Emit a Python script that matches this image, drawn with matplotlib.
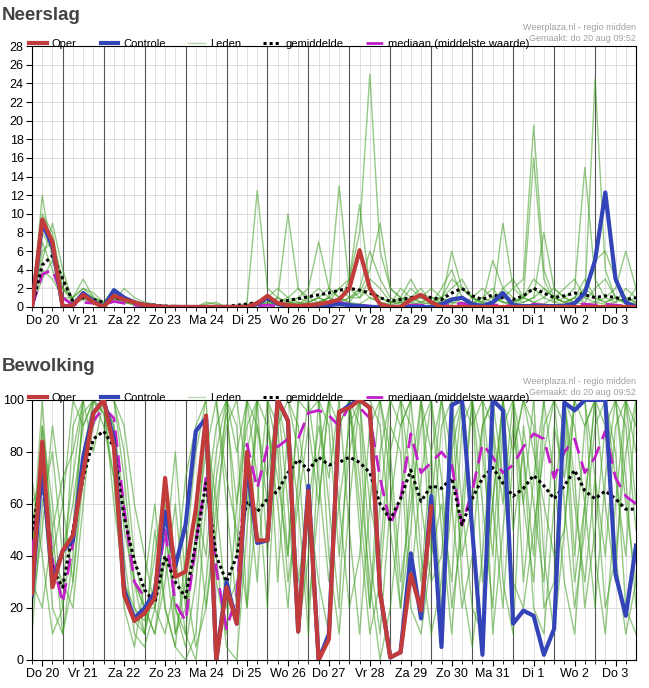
import numpy as np
import matplotlib
matplotlib.use("Agg")
import matplotlib.pyplot as plt
from matplotlib.lines import Line2D

plt.rcParams["font.family"] = ["Liberation Sans", "DejaVu Sans"]

# time axis: days since Do 20 00:00, 6-hourly steps
steps = np.arange(60)
days = ["Do 20", "Vr 21", "Za 22", "Zo 23", "Ma 24", "Di 25", "Wo 26", "Do 27",
        "Vr 28", "Za 29", "Zo 30", "Ma 31", "Di 1", "Wo 2", "Do 3"]

# ---- Neerslag (mm) ----
rain_oper = [0, 9.4, 7, 0, 0.2, 1.3, 0.5, 0, 1.2, 0.8, 0.5, 0.2, 0.1, 0, 0, 0,
             0, 0, 0, 0, 0, 0, 0.4, 1.2, 0.4, 0.2, 0.1, 0.2, 0.3, 0.5, 0.8, 2,
             6.1, 2, 0.3, 0, 0, 0.8, 1.3, 0.5, 0, 0, 0, 0, 0, 0, 0, 0,
             0, 0, 0, 0, 0, 0, 0, 0, 0, 0, 0, 0]
rain_ctrl = [0, 9.0, 6.5, 0, 0.2, 1.5, 0.6, 0, 1.8, 1.0, 0.5, 0.2, 0.1, 0, 0, 0,
             0, 0, 0, 0, 0, 0, 0.3, 1.0, 0.3, 0.1, 0, 0.1, 0.2, 0.2, 0.3, 0.2,
             0.1, 0, 0, 0, 0, 0, 0, 0, 0.3, 0.8, 1.0, 0.3, 0.1, 0.5, 1.5, 0.2,
             0.1, 0.1, 0.1, 0.1, 0.1, 0.4, 1.5, 5, 12.3, 3, 0.5, 0]
rain_mean = [0, 4.5, 5.5, 3, 0.6, 1, 0.8, 0.5, 1, 0.8, 0.5, 0.3, 0.2, 0.1, 0.05, 0.05,
             0.05, 0.05, 0.05, 0.05, 0.2, 0.3, 0.5, 0.8, 0.6, 0.7, 0.9, 1.1, 1.3, 1.5, 1.8, 2.0,
             1.8, 1.5, 1.0, 0.6, 0.8, 1.0, 1.2, 1.0, 0.8, 1.5, 2.0, 1.2, 0.8, 1.3, 1.0, 0.8,
             1.2, 2.0, 1.5, 1.0, 1.2, 1.5, 1.3, 1.0, 1.2, 1.0, 0.8, 1.0]
rain_median = [0, 3.5, 4, 1, 0.2, 0.5, 0.4, 0.2, 0.6, 0.4, 0.2, 0.1, 0, 0, 0, 0,
               0, 0, 0, 0, 0, 0, 0.1, 0.2, 0.1, 0, 0, 0.1, 0.2, 0.3, 0.5, 0.3,
               0.2, 0.1, 0, 0, 0.1, 0.2, 0.2, 0.1, 0, 0.3, 0.4, 0.1, 0, 0.2, 0.2, 0.1,
               0.1, 0.3, 0.2, 0.1, 0.2, 0.4, 0.3, 0.2, 0.3, 0.2, 0.1, 0.2]
rain_members = [
    "0 8 6 1 .5 1 .5 .2 1 .5 .2 0 0 0 0 0 0 0 0 0 0 .2 .5 1 2 1 .5 .3 .5 1 2 3 8 25 6 2 1 .5 1 2 1 .5 .3 1 2 1 .5 .5 1 3 2 1 .5 1 2 1 .5 1 .5 .3",
    "0 12 5 2 1 2 1 .5 2 1 .3 0 .2 0 0 0 0 .3 .5 0 0 .5 12.5 2 1 .5 .3 1 2 1 .5 1 2 1 .5 .2 .5 2 1 .5 1 3 2 1 .5 .3 1 2 3 19.5 4 1 .5 .3 1 .5 .3 .5 1 .5",
    "0 6 7 3 .5 1.5 1 .3 1.5 1 .5 .2 0 0 .2 0 0 0 0 0 0 .2 .3 .5 1 10 2 .5 1 .5 2 1 1 3 2 .5 .3 1 .5 .3 2 4 1 .5 1 2 .5 .3 1 16 3 .5 1 2 15 3 1 .5 2 1",
    "0 4 3 1 .3 .8 .5 .2 .8 .5 .3 0 0 0 0 0 0 0 0 .2 0 .3 .5 1 .5 1 2 1 .5 1 13 2 1 2 1 .5 1 .5 .3 .5 1 2 3 1 .5 5 2 1 .5 1 2 1 2 3 1 24.5 4 1 .5 1",
    "0 10 8 2 1 2 1.5 .5 1 .8 .5 0 0 .2 0 0 0 0 0 0 .2 0 .5 .3 .5 .3 1 .5 1 2 1 .5 2 6 3 1 .5 1 2 .5 .5 1 .5 .3 1 .5 2 3 1 .5 1 2 1 .5 2 5 6 3 1 .5",
    "0 3 5 2 .5 1 .8 .3 1 .7 .4 .1 0 0 0 0 0 .5 .3 0 0 0 .3 .2 1 .5 .3 .5 1 .5 .5 1 1.5 4 9 2 1 3 1 .5 .5 6 2 1 .5 1 .5 .3 .5 1 8 2 1 .5 .3 .5 1 2 6 2",
    "0 7 4 1 1 3 1 .5 .5 2 1 .5 .3 0 0 0 0 0 0 0 0 .3 .2 .5 .3 .5 1 2 7 2 1 .5 .3 1 .5 .3 2 1 .5 1 .5 .3 1 .5 .3 .5 9 2 1 .5 .3 1 .5 1 3 1 .5 1 .3 .5",
    "0 5 9 4 .5 1 .5 .2 1 .5 .3 .2 0 0 0 0 0 0 0 0 0 0 .2 .2 .5 .3 .5 .3 .5 1 .5 3 11 2 1 .5 .5 .3 .5 1 1 .5 2 1 .3 .5 1 .5 1 2 1 .5 .3 1 .5 2 3 1 .5 2",
]

# ---- Bewolking (%) ----
cloud_oper = [25.6, 84, 28, 42, 48, 72, 95, 100, 82, 25, 15, 18, 24, 70, 32, 34,
              58, 94, 0, 28, 14, 80, 46, 46, 100, 92, 11, 65, 0, 8, 95.5, 97,
              100, 97, 26, 1, 3, 33, 19, 59] + [np.nan] * 20
cloud_ctrl = [25, 75, 30, 42, 46, 78, 95, 100, 85, 27, 16, 20, 26, 57, 36, 52,
              88, 93, 0, 30, 14, 75, 45, 46, 100, 92, 11, 67, 0, 10, 95, 98,
              100, 97, 26, 1, 3, 41, 16, 63, 5, 98, 100, 50, 2, 100, 96, 14,
              19, 17, 2, 12, 99, 96, 100, 100, 100, 33, 17, 44]
cloud_mean = [50, 70, 35, 28, 50, 70, 85, 88, 82, 55, 38, 27, 22, 40, 30, 24,
              45, 68, 40, 30, 40, 61, 57, 62, 65, 72, 77, 73, 78, 75, 76, 78,
              76, 72, 60, 54, 62, 73, 61, 67, 66, 70, 52, 62, 70, 74, 68, 63,
              66, 71, 67, 62, 67, 73, 65, 62, 65, 62, 58, 58]
cloud_median = [40, 78, 38, 22, 45, 75, 92, 97, 93, 58, 30, 24, 24, 50, 22, 15,
                45, 70, 35, 12, 25, 83, 66, 82, 82, 85, 85, 95, 96, 94, 90, 98,
                97, 93, 70, 52, 62, 87, 72, 76, 80, 75, 52, 65, 83, 78, 72, 75,
                82, 87, 85, 70, 80, 85, 72, 78, 88, 70, 63, 60]
cloud_members = [
    "30 90 60 20 50 95 100 100 90 60 20 10 30 60 40 10 50 80 100 60 20 80 100 100 90 40 100 95 100 100 60 20 40 90 100 80 30 60 90 100 70 20 50 100 80 40 100 100 60 30 90 100 100 70 20 50 90 100 60 30",
    "60 70 20 10 40 100 100 90 70 20 5 30 60 20 5 0 10 60 90 100 40 100 90 60 100 100 80 20 60 100 100 100 50 10 30 80 100 90 40 10 30 80 100 90 100 60 20 80 100 100 40 10 50 100 100 70 20 40 80 100",
    "20 50 90 60 30 70 90 100 100 80 40 20 10 40 80 30 5 20 60 90 100 70 30 90 60 20 70 100 100 40 10 60 100 100 90 50 20 70 100 60 100 100 30 5 40 90 60 100 80 20 10 60 100 40 90 100 100 80 20 10",
    "40 100 40 30 20 60 100 100 100 90 60 40 20 10 30 70 90 100 40 5 0 50 100 100 30 90 60 10 80 100 90 100 70 30 0 20 60 100 100 40 60 30 90 100 100 10 50 90 60 100 100 70 30 10 60 100 60 30 100 90",
    "10 60 80 40 60 90 100 95 80 40 10 5 20 50 20 5 30 70 30 10 60 100 100 40 100 80 30 60 90 70 100 100 100 60 40 90 80 20 10 40 90 100 60 20 10 60 100 100 30 70 100 100 90 30 60 20 70 100 90 50",
    "50 80 30 40 70 100 100 100 60 30 20 15 40 70 10 20 60 40 80 100 90 20 60 100 100 100 90 60 30 10 90 100 90 20 60 100 100 30 70 100 50 10 60 100 100 90 30 10 90 60 30 90 70 100 100 40 10 60 100 80",
    "70 40 10 20 90 100 80 100 90 50 30 20 10 30 60 20 40 90 60 20 30 60 90 70 100 60 10 40 100 90 40 80 100 100 100 70 20 50 100 100 100 80 40 60 90 100 70 30 20 50 80 100 100 90 60 100 90 40 10 30",
    "30 20 50 10 30 80 100 100 100 70 30 10 50 20 5 40 80 100 100 70 50 20 100 90 70 40 100 100 100 60 20 100 60 20 80 100 90 100 60 30 40 90 100 100 60 20 90 100 100 80 60 40 50 100 90 100 100 70 40 100",
    "20 90 50 70 80 100 100 95 70 30 15 10 30 50 20 10 0 30 70 95 60 90 100 100 80 30 60 90 60 100 100 50 10 60 100 100 100 70 30 80 100 60 20 40 90 100 100 50 80 40 100 100 60 20 50 90 100 100 70 20",
    "45 70 40 60 100 90 100 100 80 60 30 20 20 40 10 30 60 20 50 100 80 100 70 20 90 100 100 100 70 30 60 90 100 40 10 60 90 100 100 80 20 60 100 100 30 60 100 80 100 90 20 30 100 60 30 70 40 90 100 60",
]

RED = "#c23b3b"
BLUE = "#3343b8"
GREEN = "#3f9e22"
MAG = "#c21fc8"

x = 0.25 + 0.25 * steps


def draw_panel(ax, members, oper, ctrl, mean, median, ymax, ystep):
    ax.set_xlim(0.25, 15.0)
    ax.set_ylim(0, ymax)
    for v in np.arange(0.25, 15.0, 0.25):
        if abs(v - round(v)) < 1e-6:
            ax.axvline(v, color="#555555", lw=0.8, zorder=1)
        else:
            ax.axvline(v, color="#e0e0e0", lw=0.7, zorder=0)
    for yv in np.arange(ystep, ymax, ystep):
        ax.axhline(yv, color="#dddddd", lw=0.7, zorder=0)
    for m in members:
        vals = [float(t) for t in m.split()]
        ax.plot(x[:len(vals)], vals, color=GREEN, lw=1.0, alpha=0.55, zorder=2)
    ax.plot(x, median, color=MAG, lw=2, dashes=(6, 3), zorder=3)
    ax.plot(x, mean, color="black", lw=2.2, ls=(0, (1, 1)), zorder=4)
    ax.plot(x, ctrl, color=BLUE, lw=3, zorder=5)
    ax.plot(x, oper, color=RED, lw=3, zorder=6)
    ax.set_yticks(np.arange(0, ymax + 1, ystep))
    ax.set_xticks(np.arange(15) + 0.5)
    ax.set_xticklabels(days)
    ax.set_xticks(np.arange(0.25, 15.0, 0.25), minor=True)
    ax.tick_params(labelsize=9, length=4, pad=2)
    ax.tick_params(axis="x", which="minor", length=3)
    for s in ax.spines.values():
        s.set_color("black")

    handles = [
        Line2D([], [], color=RED, lw=3),
        Line2D([], [], color=BLUE, lw=3),
        Line2D([], [], color="#b8d8b0", lw=1),
        Line2D([], [], color="black", lw=2.2, ls=(0, (1, 1))),
        Line2D([], [], color=MAG, lw=2, dashes=(6, 3)),
    ]
    labels = ["Oper.", "Controle", "Leden", "gemiddelde", "mediaan (middelste waarde)"]
    ax.legend(handles, labels, loc="lower left", bbox_to_anchor=(-0.005, 0.99),
              ncol=5, frameon=False, fontsize=8, handlelength=1.6,
              columnspacing=2.0, handletextpad=0.4, borderpad=0, borderaxespad=0)
    ax.text(1.0, 1.055, "Weerplaza.nl - regio midden", transform=ax.transAxes,
            ha="right", va="bottom", fontsize=6.5, color="#a0a0a0")
    ax.text(1.0, 1.012, "Gemaakt: do 20 aug 09:52", transform=ax.transAxes,
            ha="right", va="bottom", fontsize=6.5, color="#a0a0a0")


fig = plt.figure(figsize=(6.49, 6.88), dpi=100)
ax1 = fig.add_axes([0.0493, 0.5538, 0.9307, 0.379])
ax2 = fig.add_axes([0.0493, 0.0407, 0.9307, 0.378])

draw_panel(ax1, rain_members, rain_oper, rain_ctrl, rain_mean, rain_median, 28, 2)
draw_panel(ax2, cloud_members, cloud_oper, cloud_ctrl, cloud_mean, cloud_median, 100, 20)

fig.text(0.003, 0.978, "Neerslag", fontsize=13.5, fontweight="bold", color="#444444", va="center")
fig.text(0.003, 0.467, "Bewolking", fontsize=13.5, fontweight="bold", color="#444444", va="center")

fig.savefig("out.png", dpi=100)
